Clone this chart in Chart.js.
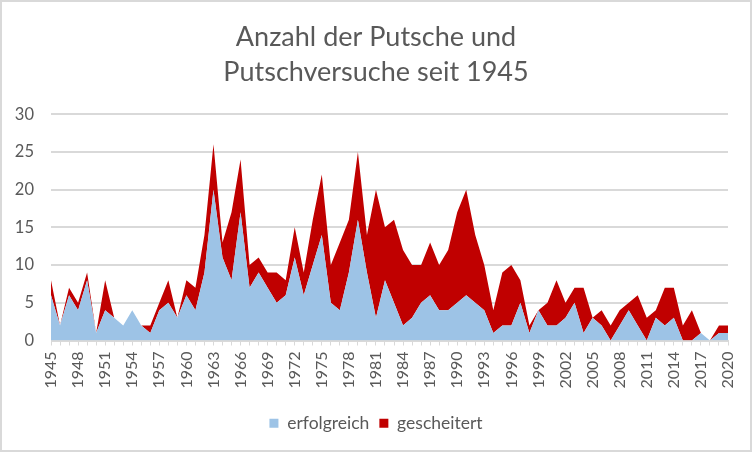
<!DOCTYPE html>
<html lang="de">
<head>
<meta charset="utf-8">
<title>Putsche seit 1945</title>
<script src="https://cdn.jsdelivr.net/npm/chart.js@4/dist/chart.umd.min.js"></script>
<style>
  html, body { margin: 0; padding: 0; background: #fff; }
  #wrap { width: 752px; height: 452px; }
</style>
</head>
<body>
<div id="wrap"><canvas id="putschChart" width="752" height="452"></canvas></div>
<script>
// Jahre 1945-2020
const years = [];
for (let y = 1945; y <= 2020; y++) years.push(String(y));

// erfolgreiche Putsche pro Jahr (aus dem Bild geschätzt)
const erfolgreich = [
    6, 2, 6, 4, 8, 1, 4, 3, 2, 4,      // 1945-1954
    2, 1, 4, 5, 3, 6, 4, 9, 20, 11,    // 1955-1964
    8, 17, 7, 9, 7, 5, 6, 11, 6, 10,   // 1965-1974
    14, 5, 4, 9, 16, 9, 3, 8, 5, 2,    // 1975-1984
    3, 5, 6, 4, 4, 5, 6, 5, 4, 1,      // 1985-1994
    2, 2, 5, 1, 4, 2, 2, 3, 5, 1,      // 1995-2004
    3, 2, 0, 2, 4, 2, 0, 3, 2, 3,      // 2005-2014
    0, 0, 1, 0, 1, 1                   // 2015-2020
];

// gescheiterte Putschversuche pro Jahr
const gescheitert = [
    2, 0, 1, 1, 1, 0, 4, 0, 0, 0,      // 1945-1954
    0, 1, 1, 3, 0, 2, 3, 5, 6, 2,      // 1955-1964
    9, 7, 3, 2, 2, 4, 2, 4, 3, 6,      // 1965-1974
    8, 5, 9, 7, 9, 5, 17, 7, 11, 10,   // 1975-1984
    7, 5, 7, 6, 8, 12, 14, 9, 6, 3,    // 1985-1994
    7, 8, 3, 1, 0, 3, 6, 2, 2, 6,      // 1995-2004
    0, 2, 2, 2, 1, 4, 3, 1, 5, 4,      // 2005-2014
    2, 4, 0, 0, 1, 1                   // 2015-2020
];

const yTicks = [0, 5, 10, 15, 20, 25, 30];

const colors = {
    blue: '#9dc3e6',
    red: '#c00000',
    text: '#595959',
    grid: '#d9d9d9'
};

const fontFamily = 'Lato, "Liberation Sans", sans-serif';

// Rahmen um den Diagrammbereich (wie in Excel)
const frame = {
    id: 'frame',
    afterDraw(chart) {
        const ctx = chart.ctx;
        ctx.save();
        ctx.strokeStyle = colors.grid;
        ctx.lineWidth = 2;
        ctx.strokeRect(1, 1, chart.width - 2, chart.height - 2);
        ctx.restore();
    }
};

const canvas = document.getElementById('putschChart');
new Chart(canvas, {
    type: 'line',
    data: {
        labels: years,
        datasets: [{
            label: 'erfolgreich',
            data: erfolgreich,
            backgroundColor: colors.blue,
            borderColor: colors.blue,
            borderWidth: 0,
            pointRadius: 0,
            fill: 'origin',
            tension: 0
        }, {
            label: 'gescheitert',
            data: gescheitert,
            backgroundColor: colors.red,
            borderColor: colors.red,
            borderWidth: 0,
            pointRadius: 0,
            fill: '-1',
            tension: 0
        }]
    },
    options: {
        responsive: false,
        animation: false,
        layout: { padding: { left: 0, right: 0, top: 8, bottom: 10 } },
        plugins: {
            title: {
                display: true,
                text: ['Anzahl der Putsche und', 'Putschversuche seit 1945'],
                color: colors.text,
                font: { family: fontFamily, size: 27, weight: 'normal', lineHeight: 1.3 },
                padding: { top: 12, bottom: 24 }
            },
            legend: {
                position: 'bottom',
                labels: {
                    color: colors.text,
                    font: { family: fontFamily, size: 17.5 },
                    boxWidth: 9,
                    boxHeight: 9,
                    padding: 10
                }
            },
            tooltip: { enabled: false }
        },
        scales: {
            x: {
                offset: false,
                afterFit: axis => {
                    axis.height = 64;
                    axis.paddingRight = 24;
                },
                grid: {
                    drawOnChartArea: false,
                    drawTicks: true,
                    tickLength: 5,
                    color: colors.grid,
                    lineWidth: 1
                },
                border: { color: colors.grid, width: 1 },
                ticks: {
                    autoSkip: false,
                    maxRotation: 90,
                    minRotation: 90,
                    color: colors.text,
                    font: { family: fontFamily, size: 16 },
                    padding: 6,
                    callback: (value, index) => (index % 3 === 0 ? years[index] : '')
                }
            },
            y: {
                stacked: true,
                min: 0,
                max: 30,
                afterFit: axis => { axis.width = 51; },
                afterBuildTicks: axis => { axis.ticks = yTicks.map(v => ({ value: v })); },
                grid: { color: colors.grid, lineWidth: 2, drawTicks: false },
                border: { display: false },
                ticks: {
                    color: colors.text,
                    font: { family: fontFamily, size: 16.5 },
                    padding: 17
                }
            }
        }
    },
    plugins: [frame]
});
</script>
</body>
</html>
